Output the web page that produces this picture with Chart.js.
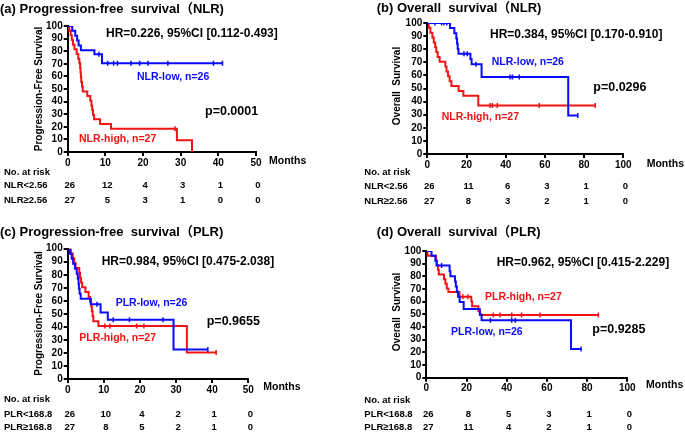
<!DOCTYPE html>
<html>
<head>
<meta charset="utf-8">
<script src="https://cdn.jsdelivr.net/npm/chart.js@4.4.1/dist/chart.umd.min.js"></script>
<style>
    html, body { margin: 0; padding: 0; background: #fff; }
    #wrap { position: relative; width: 685px; height: 435px; overflow: hidden; }
    #wrap canvas { position: absolute; left: 0; top: 0; }
</style>
</head>
<body>
<div id="wrap">
    <canvas id="pa" width="685" height="435"></canvas>
    <canvas id="pb" width="685" height="435"></canvas>
    <canvas id="pc" width="685" height="435"></canvas>
    <canvas id="pd" width="685" height="435"></canvas>
</div>
<script>
// ---- data: [month, survival %] at each drop, plus censor times ----
const pfsMonths = [0, 10, 20, 30, 40, 50];
const osMonths = [0, 20, 40, 60, 80, 100];
const survivalTicks = [0, 10, 20, 30, 40, 50, 60, 70, 80, 90, 100];

// (a) PFS, NLR
const pfsNlrLow = [[0, 100], [1.2, 96.2], [2.0, 92.3], [2.5, 88.5], [2.9, 84.6], [3.5, 80.8], [7.1, 77.5], [9.1, 70.4]];
const pfsNlrLowCensor = [8.3, 10.6, 12.2, 13.2, 16.8, 19.1, 21.3, 26.6, 38.7, 41.1];
const pfsNlrHigh = [[0, 100], [0.4, 96.3], [0.8, 92.6], [1.1, 88.9], [1.4, 85.2], [1.8, 81.5], [2.4, 77.8], [2.8, 74.1],
    [3.1, 70.4], [3.3, 66.7], [3.4, 63.0], [3.5, 59.3], [3.6, 55.6], [3.8, 51.9], [4.0, 48.1], [5.2, 44.4], [6.0, 40.7],
    [6.3, 37.0], [6.5, 33.3], [6.7, 29.6], [7.0, 25.9], [8.6, 22.2], [11.5, 18.5], [29.0, 9.3], [33.0, 0]];
const pfsNlrHighCensor = [28.5];
const riskPfsNlrLow = [26, 12, 4, 3, 1, 0];
const riskPfsNlrHigh = [27, 5, 3, 1, 0, 0];

// (b) OS, NLR
const osNlrLow = [[0, 100], [11.6, 96.2], [13.8, 92.1], [14.8, 88.1], [15.2, 84.1], [15.5, 80.1], [15.9, 76.6],
    [22.0, 72.6], [22.6, 68.5], [27.7, 58.7], [71.9, 29.3]];
const osNlrLowCensor = [3.9, 7.3, 8.5, 9.9, 18.7, 20.4, 24.8, 42.2, 43.4, 46.9, 76.8];
const osNlrHigh = [[0, 100], [0.7, 96.3], [1.6, 92.6], [2.6, 88.9], [3.3, 85.2], [4.0, 81.5], [4.6, 77.8], [5.3, 74.1],
    [6.3, 70.4], [9.2, 66.7], [9.8, 63.0], [10.6, 59.3], [11.4, 55.6], [12.3, 51.9], [16.0, 48.1], [18.4, 44.4], [26.0, 37.0]];
const osNlrHighCensor = [32.0, 33.2, 35.7, 57.1, 85.7];
const riskOsNlrLow = [26, 11, 6, 3, 1, 0];
const riskOsNlrHigh = [27, 8, 3, 2, 1, 0];

// (c) PFS, PLR
const pfsPlrLow = [[0, 100], [0.6, 96.2], [1.1, 92.3], [1.5, 88.5], [2.0, 84.6], [2.5, 80.8], [2.8, 76.9], [3.0, 73.1],
    [3.1, 69.2], [3.3, 65.4], [3.6, 61.5], [6.4, 57.4], [9.1, 51.1], [11.1, 45.4], [29.3, 22.7]];
const pfsPlrLowCensor = [8.1, 12.6, 17.1, 26.4, 38.8];
const pfsPlrHigh = [[0, 100], [0.9, 96.3], [1.4, 92.6], [1.8, 88.9], [2.2, 85.2], [3.2, 81.5], [3.4, 77.8], [3.7, 74.1],
    [4.0, 70.4], [4.9, 66.7], [5.8, 63.0], [6.2, 59.3], [6.5, 55.6], [6.7, 51.9], [6.9, 48.1], [7.1, 44.4], [8.5, 40.7], [33.0, 20.4]];
const pfsPlrHighCensor = [10.3, 11.7, 19.1, 21.1, 41.1];
const riskPfsPlrLow = [26, 10, 4, 2, 1, 0];
const riskPfsPlrHigh = [27, 8, 5, 2, 1, 0];

// (d) OS, PLR
const osPlrLow = [[0, 100], [2.6, 96.2], [4.5, 92.3], [5.1, 88.5], [11.6, 84.1], [12.0, 80.1], [14.3, 76.0], [14.7, 72.0],
    [15.2, 67.9], [15.8, 63.8], [16.6, 59.7], [18.6, 54.3], [26.6, 49.8], [27.5, 45.3], [72.0, 22.6]];
const osPlrLowCensor = [7.6, 31.9, 42.5, 44.3, 77.0];
const osPlrHigh = [[0, 100], [0.6, 96.3], [4.8, 92.6], [5.3, 88.9], [5.8, 85.2], [6.2, 81.5], [8.8, 77.8], [9.5, 74.1],
    [10.2, 70.4], [11.0, 67.6], [16.5, 63.9], [22.4, 60.1], [22.8, 56.4], [25.9, 52.7], [26.7, 49.4]];
const osPlrHighCensor = [18.2, 20.7, 33.3, 36.7, 42.5, 47.4, 56.6, 85.6];
const riskOsPlrLow = [26, 8, 5, 3, 1, 0];
const riskOsPlrHigh = [27, 11, 4, 2, 1, 0];

const FONT = '"Liberation Sans", Arial, "Noto Sans CJK SC", sans-serif';
const BLUE = '#0a0aff';
const RED = '#f01414';

const survivalAt = (steps, t) => {
    let s = 100;
    steps.forEach(([x, y]) => { if (x <= t) s = y; });
    return s;
};

const kmLine = (steps, censor) => {
    const pts = steps.map(([x, y]) => ({ x, y }));
    const last = steps[steps.length - 1];
    const end = Math.max(...censor);
    if (end > last[0]) pts.push({ x: end, y: last[1] });
    return pts;
};

const curve = (steps, color, censor) => ({
    data: kmLine(steps, censor),
    borderColor: color,
    borderWidth: 2,
    stepped: true,
    pointRadius: 0,
    fill: false,
});

const marks = (steps, color, censor) => ({
    data: censor.map((t) => ({ x: t, y: survivalAt(steps, t) })),
    showLine: false,
    pointStyle: 'line',
    pointRotation: 90,
    pointRadius: 2.5,
    pointBorderWidth: 1.5,
    borderColor: color,
    backgroundColor: color,
});

const axisStyle = {
    grid: { drawOnChartArea: false, drawTicks: true, tickLength: 4, color: '#000', lineWidth: 2 },
    border: { display: true, color: '#000', width: 2 },
};

const makePanel = (canvasId, p) => {
    const textPlugin = {
        id: 'panelText',
        afterDraw(chart) {
            const { ctx } = chart;
            const xScale = chart.scales.x;
            ctx.save();
            ctx.textBaseline = 'middle';
            ctx.textAlign = 'left';
            p.labels.forEach(([text, x, y, size, color]) => {
                ctx.font = `bold ${size}px ${FONT}`;
                ctx.fillStyle = color || '#000';
                ctx.fillText(text, x, y);
            });

            ctx.save();
            ctx.font = `bold 10px ${FONT}`;
            ctx.fillStyle = '#000';
            ctx.translate(p.yTitle[1], p.yTitle[2]);
            ctx.rotate(-Math.PI / 2);
            ctx.textAlign = 'center';
            ctx.fillText(p.yTitle[0], 0, 0);
            ctx.restore();

            ctx.font = `bold 9.5px ${FONT}`;
            ctx.fillStyle = '#000';
            ctx.fillText('No. at risk', p.riskX, p.riskHeadY);
            p.riskRows.forEach(([label, counts, y]) => {
                ctx.textAlign = 'left';
                ctx.fillText(label, p.riskX, y);
                ctx.textAlign = 'center';
                counts.forEach((n, i) => {
                    ctx.fillText(String(n), xScale.getPixelForValue(p.months[i]) + 2, y);
                });
            });
            ctx.restore();
        },
    };

    const tickFont = { family: FONT, size: 10, weight: 'bold' };

    new Chart(document.getElementById(canvasId), {
        type: 'line',
        data: { datasets: p.datasets },
        options: {
            responsive: false,
            animation: false,
            layout: { padding: p.padding },
            plugins: { legend: { display: false }, tooltip: { enabled: false } },
            scales: {
                x: {
                    type: 'linear',
                    min: 0,
                    max: p.months[p.months.length - 1],
                    afterFit: (scale) => { scale.height = 20; },
                    afterBuildTicks: (scale) => { scale.ticks = p.months.map((v) => ({ value: v })); },
                    ticks: { color: '#000', font: tickFont, padding: 1, maxRotation: 0, autoSkip: false },
                    ...axisStyle,
                },
                y: {
                    type: 'linear',
                    min: 0,
                    max: 100,
                    afterFit: (scale) => { scale.width = 30; },
                    afterBuildTicks: (scale) => { scale.ticks = survivalTicks.map((v) => ({ value: v })); },
                    ticks: { color: '#000', font: tickFont, padding: 1, autoSkip: false },
                    ...axisStyle,
                },
            },
        },
        plugins: [textPlugin],
    });
};

makePanel('pa', {
    padding: { left: 37.7, top: 26, right: 429, bottom: 263 },
    months: pfsMonths,
    datasets: [
        curve(pfsNlrLow, BLUE, pfsNlrLowCensor), marks(pfsNlrLow, BLUE, pfsNlrLowCensor),
        curve(pfsNlrHigh, RED, pfsNlrHighCensor), marks(pfsNlrHigh, RED, pfsNlrHighCensor),
    ],
    yTitle: ['Progression-Free Survival', 39.5, 89],
    labels: [
        ['(a) Progression-free  survival（NLR)', 0, 9, 13],
        ['HR=0.226, 95%CI [0.112-0.493]', 106, 34, 12],
        ['NLR-low, n=26', 137, 77, 10.5, BLUE],
        ['p=0.0001', 205, 111.7, 12.5],
        ['NLR-high, n=27', 79, 139.5, 10.5, RED],
        ['Months', 269, 160.7, 10.5],
    ],
    riskX: 4,
    riskHeadY: 172.3,
    riskRows: [['NLR<2.56', riskPfsNlrLow, 185.7], ['NLR≥2.56', riskPfsNlrHigh, 200.7]],
});

makePanel('pb', {
    padding: { left: 397.3, top: 23, right: 61.7, bottom: 261 },
    months: osMonths,
    datasets: [
        curve(osNlrLow, BLUE, osNlrLowCensor), marks(osNlrLow, BLUE, osNlrLowCensor),
        curve(osNlrHigh, RED, osNlrHighCensor), marks(osNlrHigh, RED, osNlrHighCensor),
    ],
    yTitle: ['Overall  Survival', 397.3, 86],
    labels: [
        ['(b) Overall  survival（NLR)', 376.7, 8.3, 13],
        ['HR=0.384, 95%CI [0.170-0.910]', 490, 34.3, 12],
        ['NLR-low, n=26', 491.7, 62.3, 10.5, BLUE],
        ['p=0.0296', 593.3, 87.3, 12.5],
        ['NLR-high, n=27', 441.7, 117.3, 10.5, RED],
        ['Months', 646.7, 164.3, 10.5],
    ],
    riskX: 364.3,
    riskHeadY: 172.3,
    riskRows: [['NLR<2.56', riskOsNlrLow, 186.7], ['NLR≥2.56', riskOsNlrHigh, 201]],
});

makePanel('pc', {
    padding: { left: 37.7, top: 248.7, right: 436.7, bottom: 36 },
    months: pfsMonths,
    datasets: [
        curve(pfsPlrLow, BLUE, pfsPlrLowCensor), marks(pfsPlrLow, BLUE, pfsPlrLowCensor),
        curve(pfsPlrHigh, RED, pfsPlrHighCensor), marks(pfsPlrHigh, RED, pfsPlrHighCensor),
    ],
    yTitle: ['Progression-Free Survival', 39, 313.5],
    labels: [
        ['(c) Progression-free  survival（PLR)', 0, 232.3, 13],
        ['HR=0.984, 95%CI [0.475-2.038]', 101.7, 261.7, 12],
        ['PLR-low, n=26', 115.7, 302.7, 10.5, BLUE],
        ['p=0.9655', 206.7, 321.7, 12.5],
        ['PLR-high, n=27', 79.3, 337.7, 10.5, RED],
        ['Months', 263.3, 387.3, 10.5],
    ],
    riskX: 4,
    riskHeadY: 399.3,
    riskRows: [['PLR<168.8', riskPfsPlrLow, 414], ['PLR≥168.8', riskPfsPlrHigh, 427.7]],
});

makePanel('pd', {
    padding: { left: 396.3, top: 251, right: 57.7, bottom: 37.3 },
    months: osMonths,
    datasets: [
        curve(osPlrLow, BLUE, osPlrLowCensor), marks(osPlrLow, BLUE, osPlrLowCensor),
        curve(osPlrHigh, RED, osPlrHighCensor), marks(osPlrHigh, RED, osPlrHighCensor),
    ],
    yTitle: ['Overall  Survival', 397.3, 312],
    labels: [
        ['(d) Overall  survival（PLR)', 376.7, 232.3, 13],
        ['HR=0.962, 95%CI [0.415-2.229]', 496.7, 262.3, 12],
        ['PLR-high, n=27', 485, 296.7, 10.5, RED],
        ['p=0.9285', 592.3, 330, 12.5],
        ['PLR-low, n=26', 451, 332.3, 10.5, BLUE],
        ['Months', 646, 385, 10.5],
    ],
    riskX: 364.3,
    riskHeadY: 400,
    riskRows: [['PLR<168.8', riskOsPlrLow, 414], ['PLR≥168.8', riskOsPlrHigh, 427.7]],
});
</script>
</body>
</html>
